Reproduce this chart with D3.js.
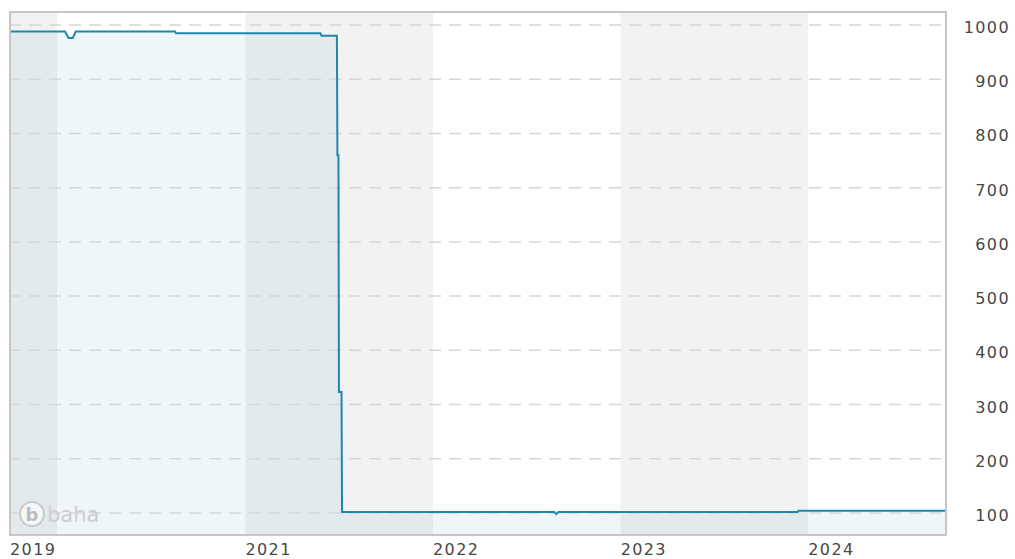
<!DOCTYPE html>
<html>
<head>
<meta charset="utf-8">
<script src="https://cdn.jsdelivr.net/npm/d3@7"></script>
<style>
  body { margin: 0; background: #fff; }
  .axisText { font-family: "DejaVu Sans", Verdana, sans-serif; font-size: 16px; fill: #474747; letter-spacing: 1.4px; }
</style>
</head>
<body>
<script>
// Chart data: closing values
var dates = ["2019-10-01", "2020-01-16", "2020-01-23", "2020-01-31", "2020-02-06", "2020-08-17", "2020-08-19",
  "2021-05-27", "2021-05-29", "2021-06-28", "2021-06-29", "2021-07-01", "2021-07-02", "2021-07-07", "2021-07-08",
  "2022-08-25", "2022-08-29", "2022-09-02", "2023-12-11", "2023-12-13", "2024-09-25"];
var values = [988, 988, 976, 976, 988, 988, 985,
  985, 980, 980, 760, 760, 323, 323, 102,
  102, 98, 102, 102, 104, 104];

// Axis ticks
var yTicks = [100, 200, 300, 400, 500, 600, 700, 800, 900, 1000];
var xTickDates = ["2019-10-01", "2021-01-01", "2022-01-01", "2023-01-01", "2024-01-01"];
var xTickLabels = ["2019", "2021", "2022", "2023", "2024"];

// SVG area
var svgWidth = 1015;
var svgHeight = 559;

// plot frame
var plot = { left: 10, right: 946, top: 12, bottom: 535 };

var svg = d3.select("body")
  .append("svg")
  .attr("width", svgWidth)
  .attr("height", svgHeight);

var parseTime = d3.timeParse("%Y-%m-%d");

var data = dates.map(function(d, i) {
  return { date: parseTime(d), value: values[i] };
});

var xTimeScale = d3.scaleTime()
  .domain(d3.extent(data, d => d.date))
  .range([plot.left, plot.right]);

var yLinearScale = d3.scaleLinear()
  .domain([100, 1000])
  .range([513, 25]);

// alternating year bands
var start = xTimeScale.domain()[0];
var end = xTimeScale.domain()[1];
var bounds = [start].concat(d3.timeYear.range(d3.timeYear.ceil(start), end)).concat([end]);
var bands = d3.pairs(bounds);

svg.append("g")
  .selectAll("rect")
  .data(bands)
  .enter()
  .append("rect")
  .attr("x", d => xTimeScale(d[0]))
  .attr("width", d => xTimeScale(d[1]) - xTimeScale(d[0]))
  .attr("y", plot.top)
  .attr("height", plot.bottom - plot.top)
  .attr("fill", (d, i) => i % 2 === 0 ? "#f2f2f2" : "#ffffff");

// area under line
var drawArea = d3.area()
  .x(d => xTimeScale(d.date))
  .y0(plot.bottom)
  .y1(d => yLinearScale(d.value));

svg.append("path")
  .attr("d", drawArea(data))
  .attr("fill", "#228ab1")
  .attr("fill-opacity", 0.075);

// dashed gridlines
svg.append("g")
  .selectAll("line")
  .data(yTicks)
  .enter()
  .append("line")
  .attr("x1", plot.left)
  .attr("x2", plot.right)
  .attr("y1", d => yLinearScale(d))
  .attr("y2", d => yLinearScale(d))
  .attr("stroke", "#d6d6d6")
  .attr("stroke-width", 1.5)
  .attr("stroke-dasharray", "12,8")
  .attr("stroke-dashoffset", 1);

// watermark
var wm = svg.append("g").attr("fill", "none");
wm.append("circle")
  .attr("cx", 32)
  .attr("cy", 514)
  .attr("r", 12)
  .attr("fill", "#f4f7f8")
  .attr("stroke", "#cacaca")
  .attr("stroke-width", 2);
wm.append("text")
  .attr("x", 32)
  .attr("y", 521)
  .attr("text-anchor", "middle")
  .attr("fill", "#bcbcbc")
  .style("font-family", "DejaVu Sans, sans-serif")
  .style("font-weight", "bold")
  .style("font-size", "18px")
  .text("b");
wm.append("text")
  .attr("x", 47)
  .attr("y", 522)
  .attr("fill", "#cdcdcd")
  .style("font-family", "DejaVu Sans, sans-serif")
  .style("font-size", "21px")
  .text("baha");

// value line
var drawLine = d3.line()
  .x(d => xTimeScale(d.date))
  .y(d => yLinearScale(d.value));

svg.append("path")
  .attr("d", drawLine(data))
  .attr("fill", "none")
  .attr("stroke", "#1f87ae")
  .attr("stroke-width", 2);

// frame
svg.append("rect")
  .attr("x", plot.left)
  .attr("y", plot.top)
  .attr("width", plot.right - plot.left)
  .attr("height", plot.bottom - plot.top)
  .attr("fill", "none")
  .attr("stroke", "#c6c6c6")
  .attr("stroke-width", 2);

// right axis labels
svg.append("g")
  .selectAll("text")
  .data(yTicks)
  .enter()
  .append("text")
  .attr("class", "axisText")
  .attr("x", 1010)
  .attr("y", d => yLinearScale(d) + 8)
  .attr("text-anchor", "end")
  .text(d => d);

// bottom axis labels
svg.append("g")
  .selectAll("text")
  .data(xTickDates)
  .enter()
  .append("text")
  .attr("class", "axisText")
  .attr("x", d => xTimeScale(parseTime(d)))
  .attr("y", 555)
  .text((d, i) => xTickLabels[i]);
</script>
</body>
</html>
